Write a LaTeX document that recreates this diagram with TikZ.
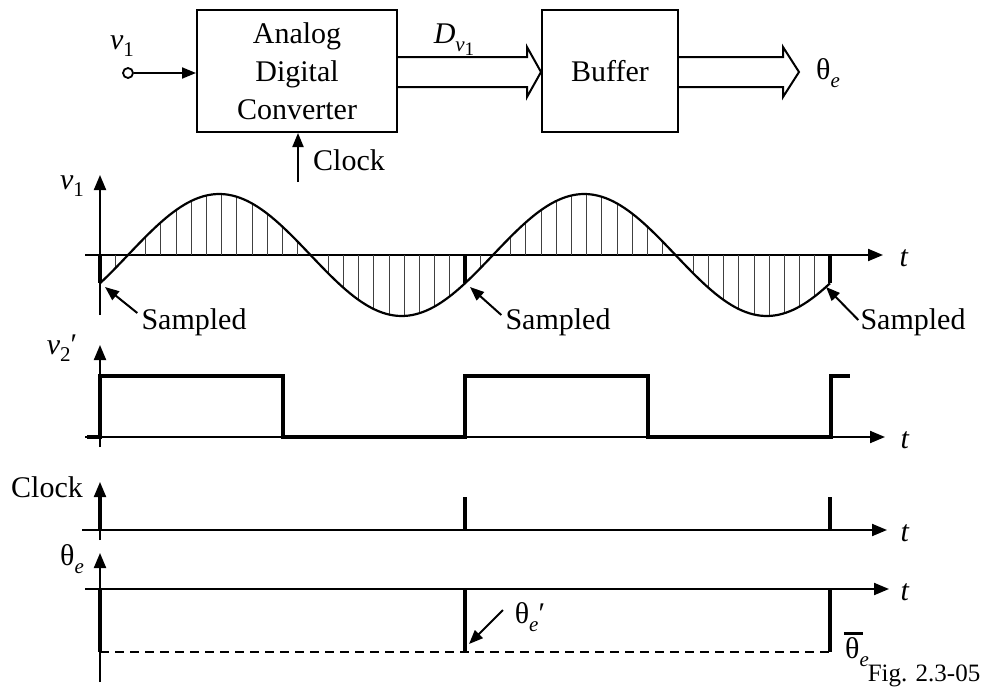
\documentclass[tikz,border=0pt]{standalone}
\usepackage{fontspec}
\setmainfont{Liberation Serif}
\usetikzlibrary{arrows.meta}
\newcommand\sbs[1]{\raisebox{-0.25em}{\fontsize{21}{21}\selectfont #1}}
\newcommand\ssbs[1]{\raisebox{-0.2em}{\fontsize{19}{19}\selectfont #1}}
\begin{document}
\begin{tikzpicture}[x=1pt,y=-1pt,
  font=\fontsize{30}{38}\selectfont,
  axisln/.style={line width=2pt,-{Triangle[width=12pt,length=15pt]}},
  pulseln/.style={line width=4.5pt},
  hatchln/.style={line width=0.9pt,black!75},
  waveln/.style={line width=2.2pt},
  boxnd/.style={draw,line width=2pt,minimum width=200pt,minimum height=122pt,align=center,inner sep=0pt},
  ptr/.style={line width=2pt,-{Triangle[width=11pt,length=14pt]}},
  busln/.style={line width=2pt,line join=miter},
  lbl/.style={inner sep=0pt}]
\useasboundingbox (0,0) rectangle (982,696);

% ---------- block diagram ----------
\node[boxnd] (adc) at (297,71) {Analog\\Digital\\Converter};
\node[boxnd,minimum width=136pt] (buf) at (610,71) {Buffer};
\node[circle,draw,line width=1.8pt,minimum size=10pt,inner sep=0pt] (vin) at (128,73) {};
\node[lbl] (vinlbl) at (122,46) {\textit{v}\sbs{1}};
\draw[ptr] (vin) -- (vin -| adc.west);
\node[lbl] (dlbl) at (454,40) {\textit{D}\sbs{\textit{v}\ssbs{1}}};
\draw[busln] (adc.east |- 0,57) -- (527,57) -- (527,47) -- (buf.west |- 0,72) -- (527,97) -- (527,87) -- (adc.east |- 0,87);
\coordinate (outtip) at (799,72);
\draw[busln] (buf.east |- 0,57) -- (783,57) -- (783,47) -- (outtip) -- (783,97) -- (783,87) -- (buf.east |- 0,87);
\node[lbl] (thout) at (828,73) {θ\sbs{\textit{e}}};
\coordinate (clkin) at (298,182);
\draw[ptr] (clkin) -- (clkin |- adc.south);
\node[lbl,anchor=west] (clklbl) at (313,160) {Clock};

% ---------- v1 ----------
\draw[axisln] (100,315) -- (100,175);
\draw[axisln] (85,255) -- (883,255);
\node[lbl] (t1) at (904,258) {\textit{t}};
\node[lbl] (v1lbl) at (72,186) {\textit{v}\sbs{1}};
\foreach \k in {1,...,47}{
  \ifnum\k=24\relax\else
  \pgfmathsetmacro\xx{100+\k*15.208333}
  \draw[hatchln] (\xx,255) -- (\xx,{255-61*sin(0.98630137*(\xx-128))});
  \fi
}
\draw[waveln] plot[domain=100:830,samples=200] (\x,{255-61*sin(0.98630137*(\x-128))});
\foreach \xx in {100,465,830}
  \draw[pulseln] (\xx,255) -- (\xx,{255-61*sin(0.98630137*(\xx-128))});
\node[lbl] (s1) at (194,322) {Sampled};
\node[lbl] (s2) at (558,322) {Sampled};
\node[lbl] (s3) at (913,322) {Sampled};
\coordinate (p1) at (105,287);
\coordinate (p2) at (470,287);
\coordinate (p3) at (826,287);
\draw[ptr] ([xshift=-4pt,yshift=9pt]s1.west) -- (p1);
\draw[ptr] ([xshift=-4pt,yshift=7pt]s2.west) -- (p2);
\draw[ptr] ([xshift=-2pt,yshift=2pt]s3.west) -- (p3);

% ---------- v2' ----------
\draw[axisln] (100,447) -- (100,345);
\draw[axisln] (85,437) -- (885,437);
\node[lbl] (t2) at (905,440) {\textit{t}};
\node[lbl] (v2lbl) at (62,348) {\textit{v}\sbs{2}′};
\draw[pulseln,line join=miter] (87,437) -- (100,437) -- (100,376) -- (283,376) -- (283,437) -- (465,437) -- (465,376) -- (648,376) -- (648,437) -- (831,437) -- (831,376) -- (850,376);

% ---------- Clock ----------
\draw[axisln] (100,540) -- (100,482);
\draw[axisln] (82,530) -- (887,530);
\node[lbl] (t3) at (905,533) {\textit{t}};
\node[lbl] (clk2) at (47,487) {Clock};
\foreach \xx in {100,465,830}
  \draw[pulseln] (\xx,530) -- (\xx,497);

% ---------- theta_e ----------
\draw[axisln] (100,682) -- (100,553);
\draw[axisln] (85,589) -- (889,589);
\node[lbl] (t4) at (905,592) {\textit{t}};
\node[lbl] (thlbl) at (72,559) {θ\sbs{\textit{e}}};
\foreach \xx in {100,465,830}
  \draw[pulseln] (\xx,589) -- (\xx,652);
\draw[line width=2pt,dash pattern=on 9pt off 6pt] (100,652) -- (830,652);
\node[lbl] (thp) at (530,617) {θ\sbs{\textit{e}}′};
\coordinate (p4) at (469,644);
\draw[ptr] (503,610) -- (p4);
\node[lbl] (thbar) at (857,652) {θ\sbs{\textit{e}}};
\draw[line width=2.5pt] ([xshift=-1pt,yshift=4pt]thbar.north west) -- ++(19pt,0pt);
\node[lbl,font=\fontsize{25}{28}\selectfont] (fig) at (924,676) {Fig. 2.3-05};
\end{tikzpicture}
\end{document}
